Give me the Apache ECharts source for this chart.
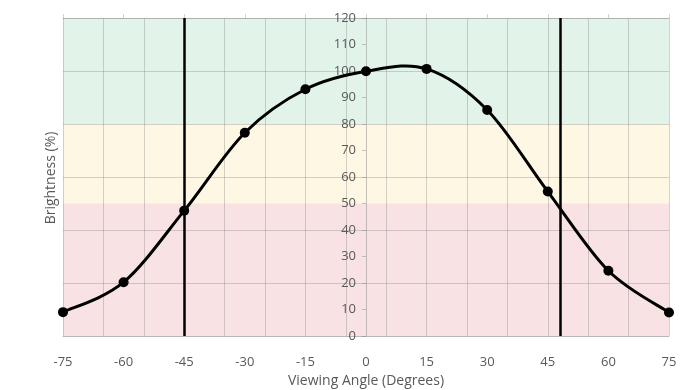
<!DOCTYPE html>
<html>
<head>
<meta charset="utf-8">
<script src="https://cdn.jsdelivr.net/npm/echarts@6/dist/echarts.min.js"></script>
<style>html,body{margin:0;padding:0;background:#fff}#c{width:695px;height:390px}</style>
</head>
<body>
<div id="c"></div>
<script>
var angles = [-75, -60, -45, -30, -15, 0, 15, 30, 45, 60, 75];
var brightness = [9, 20.3, 47.3, 76.7, 93.1, 99.9, 100.8, 85.3, 54.5, 24.6, 8.9];
var cutoffAngles = [-45, 48];
var verticalGridAngles = [-75, -65, -55, -45, -35, -25, -15, -5, 5, 15, 25, 35, 45, 55, 65, 75];
var bands = [
  {from: 80, to: 120, color: '#E2F4EA'},
  {from: 50, to: 80, color: '#FEF7E4'},
  {from: 0, to: 50, color: '#F8E2E4'}
];
var textColor = '#595959';
var font = 'Open Sans';
var gridColor = 'rgba(140,140,140,0.38)';

var W = 695, H = 390;
var gridLeft = 63, gridRight = 26, gridTop = 18, gridBottom = 54;
var xMin = -75, xMax = 75;
var gridWidth = W - gridLeft - gridRight;
// place the value axis where x = 0
var yAxisOffset = -gridWidth * (0 - xMin) / (xMax - xMin);

var points = angles.map(function (a, i) { return [a, brightness[i]]; });

// Excel-like smooth curve: cubic Bezier segments through the data points (Catmull-Rom style)
function renderSmooth(params, api) {
  var i = params.dataIndex;
  var n = points.length;
  if (i >= n - 1) return null;
  function P(k) {
    k = Math.max(0, Math.min(n - 1, k));
    return api.coord([api.value(0, k), api.value(1, k)]);
  }
  var p0 = P(i - 1), p1 = P(i), p2 = P(i + 1), p3 = P(i + 2);
  var t = 1 / 6;
  var c1 = [p1[0] + (p2[0] - p0[0]) * t, p1[1] + (p2[1] - p0[1]) * t];
  var c2 = [p2[0] - (p3[0] - p1[0]) * t, p2[1] - (p3[1] - p1[1]) * t];
  return {
    type: 'bezierCurve',
    shape: {x1: p1[0], y1: p1[1], x2: p2[0], y2: p2[1], cpx1: c1[0], cpy1: c1[1], cpx2: c2[0], cpy2: c2[1]},
    style: {stroke: '#000', lineWidth: 3, fill: null, lineCap: 'round'}
  };
}

var chart = echarts.init(document.getElementById('c'));
chart.setOption({
  animation: false,
  grid: {left: gridLeft, right: gridRight, top: gridTop, bottom: gridBottom, containLabel: false, outerBoundsMode: 'none'},
  graphic: [{
    type: 'text', x: 51, y: 178,
    rotation: Math.PI / 2,
    style: {text: 'Brightness (%)', fill: textColor, font: '14px "Open Sans"', align: 'center', verticalAlign: 'middle'}
  }],
  xAxis: [
    {
      type: 'value', position: 'bottom', min: xMin, max: xMax, interval: 15,
      name: 'Viewing Angle (Degrees)', nameLocation: 'middle', nameGap: 36,
      nameTextStyle: {color: textColor, fontFamily: font, fontSize: 14},
      axisLine: {onZero: false, lineStyle: {color: gridColor, width: 1}},
      axisTick: {show: false},
      axisLabel: {color: textColor, fontFamily: font, fontSize: 13, margin: 20},
      splitLine: {show: false}
    },
    {
      type: 'value', position: 'top', min: xMin, max: xMax, interval: 15,
      axisLine: {onZero: false, lineStyle: {color: gridColor, width: 1}},
      axisTick: {show: true, inside: false, length: 4, lineStyle: {color: gridColor}},
      axisLabel: {show: false},
      splitLine: {show: false}
    }
  ],
  yAxis: [
    {
      type: 'value', min: 0, max: 120, interval: 10, position: 'left', offset: yAxisOffset, z: 3,
      axisLine: {show: true, onZero: false, lineStyle: {color: 'rgba(140,140,140,0.5)', width: 1}},
      axisTick: {show: true, length: 4, lineStyle: {color: 'rgba(140,140,140,0.5)'}},
      axisLabel: {color: textColor, fontFamily: font, fontSize: 13, margin: 10},
      splitLine: {show: false}
    },
    {
      type: 'value', min: 0, max: 120, interval: 20, position: 'right',
      axisLine: {show: false, onZero: false},
      axisTick: {show: false},
      axisLabel: {show: false},
      splitLine: {show: true, lineStyle: {color: gridColor, width: 1}}
    }
  ],
  series: [
    {
      type: 'line', data: [], z: -1,
      markArea: {
        silent: true, z: -1,
        data: bands.map(function (b) {
          return [{yAxis: b.from, itemStyle: {color: b.color}}, {yAxis: b.to}];
        })
      },
      markLine: {
        silent: true, z: 0, symbol: 'none', label: {show: false},
        lineStyle: {color: gridColor, width: 1, type: 'solid'},
        data: verticalGridAngles.map(function (a) { return {xAxis: a}; })
      }
    },
    {
      type: 'line', z: 3,
      data: cutoffAngles.map(function (a) { return [a, 0]; }),
      symbol: 'none', lineStyle: {opacity: 0},
      markLine: {
        silent: true, z: 3, symbol: 'none', label: {show: false},
        lineStyle: {color: '#000', width: 2.5, type: 'solid'},
        data: cutoffAngles.map(function (a) { return {xAxis: a}; })
      }
    },
    {
      type: 'custom', z: 4,
      data: points,
      renderItem: renderSmooth,
      encode: {x: 0, y: 1}
    },
    {
      type: 'scatter', z: 5,
      data: points,
      symbol: 'circle', symbolSize: 10,
      itemStyle: {color: '#000', opacity: 1}
    }
  ]
});
</script>
</body>
</html>
